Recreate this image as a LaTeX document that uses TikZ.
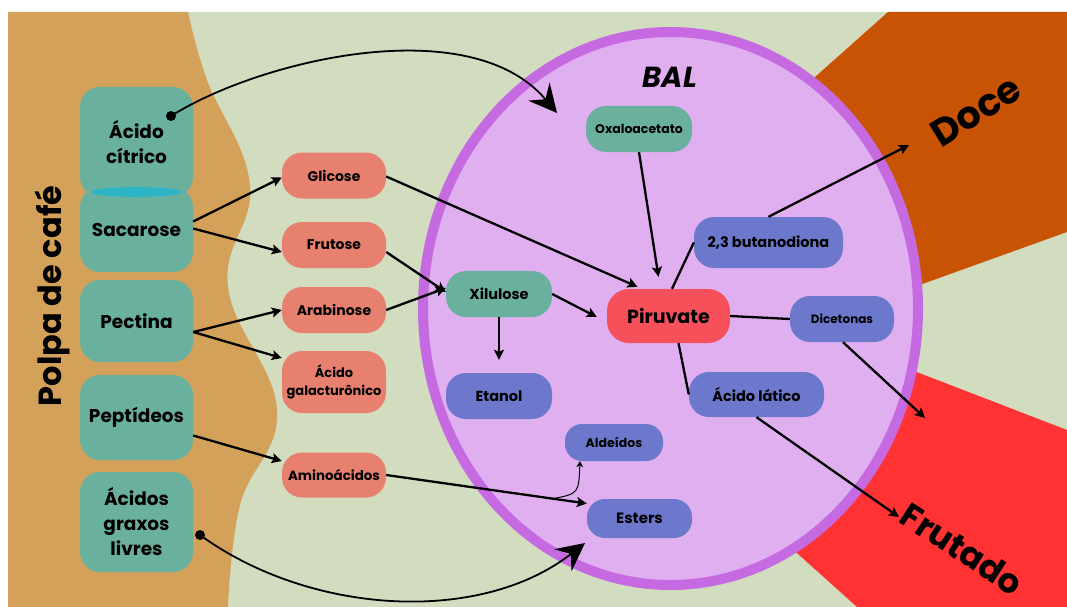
\documentclass[tikz,border=0pt]{standalone}
\usepackage{fontspec}
\setmainfont{Poppins}
\usetikzlibrary{arrows.meta,positioning,calc}
\definecolor{bgsage}{RGB}{210,221,192}
\definecolor{pulptan}{RGB}{212,161,90}
\definecolor{boxteal}{RGB}{106,176,158}
\definecolor{lenscyan}{RGB}{46,181,198}
\definecolor{boxsalmon}{RGB}{232,128,112}
\definecolor{cellfill}{RGB}{224,175,240}
\definecolor{cellrim}{RGB}{198,106,226}
\definecolor{pyrred}{RGB}{246,80,90}
\definecolor{boxblue}{RGB}{108,120,204}
\definecolor{doceorange}{RGB}{200,83,4}
\definecolor{frutred}{RGB}{255,51,51}

\begin{document}
\begin{tikzpicture}[x=1pt,y=-1pt,>={Stealth[length=10pt,width=10pt,inset=2pt]},
  srcbox/.style={fill=boxteal,rounded corners=20pt,minimum width=113pt,inner sep=0pt,align=center,font=\bfseries\fontsize{18.5}{25}\selectfont},
  sugarbox/.style={fill=boxsalmon,rounded corners=20pt,minimum width=104pt,minimum height=46pt,inner sep=0pt,align=center,font=\bfseries\fontsize{14}{18}\selectfont},
  cellbox/.style={rounded corners=20pt,minimum height=46pt,inner sep=0pt,align=center,font=\bfseries\fontsize{14.5}{17}\selectfont},
  link/.style={line width=2.3pt},
  flow/.style={->,line width=2.3pt},
  bigflow/.style={-{Stealth[length=28pt,width=28pt,inset=10pt]},line width=1.8pt},
  dot/.style={circle,fill=black,inner sep=0pt,minimum size=10pt}]
\useasboundingbox (0,0) rectangle (1067,607);
% background
\fill[white] (0,0) rectangle (1067,607);
\fill[bgsage] (8,12) rectangle (1067,607);
\fill[doceorange] (760,126) -- (888,12) -- (1067,12) -- (1067,232) -- (800,328) -- cycle;
\fill[frutred] (700,466) -- (800,327) -- (1067,430) -- (1067,607) -- (857,607) -- cycle;
\fill[pulptan] plot[smooth,tension=0.7] coordinates {(188,12) (207,80) (250,185) (228,287) (277,410) (240,505) (228,607)} -- (8,607) -- (8,12) -- cycle;
\draw[cellrim,fill=cellfill,line width=10pt] (670.5,308.5) ellipse [x radius=247.5pt,y radius=276.5pt];

\node[rotate=90,font=\bfseries\fontsize{32}{36}\selectfont] (polpa) at (52,296) {Polpa de café};
\node[font=\bfseries\itshape\fontsize{29}{32}\selectfont] (bal) at (670,77) {BAL};
\node[rotate=32,font=\bfseries\fontsize{38}{40}\selectfont] (doce) at (976,111) {Doce};
\node[rotate=-33,font=\bfseries\fontsize{34}{40}\selectfont] (frutado) at (962,549) {Frutado};

% coffee pulp
\node[srcbox,minimum height=110pt] (acido) at (136.5,142) {Ácido\\cítrico};
\node[srcbox,minimum height=85pt] (sacarose) at (136.5,229.5) {Sacarose};
\fill[lenscyan] (136.5,192) ellipse [x radius=46pt,y radius=5pt];
\node[srcbox,minimum height=82pt] (pectina) at (136.5,321) {Pectina};
\node[srcbox,minimum height=85pt] (peptideos) at (136.5,417.5) {Peptídeos};
\node[srcbox,minimum height=100pt] (graxos) at (136.5,522) {Ácidos\\graxos\\livres};

\node[sugarbox] (glicose) at (334,175.5) {Glicose};
\node[sugarbox] (frutose) at (334,245) {Frutose};
\node[sugarbox] (arabinose) at (334,310) {Arabinose};
\node[sugarbox,minimum height=62pt,font=\bfseries\fontsize{13}{18}\selectfont] (galact) at (334,382) {Ácido\\galacturônico};
\node[sugarbox,minimum height=45pt,font=\bfseries\fontsize{13.4}{16}\selectfont] (amino) at (334,475) {Aminoácidos};

% inside the cell
\node[cellbox,fill=boxteal,minimum width=106pt,font=\bfseries\fontsize{12.5}{15}\selectfont] (oxalo) at (639,129) {Oxaloacetato};
\node[cellbox,fill=boxteal,minimum width=106pt] (xilulose) at (499,294) {Xilulose};
\node[cellbox,fill=pyrred,minimum width=123pt,minimum height=54pt,rounded corners=22pt,font=\bfseries\fontsize{19}{22}\selectfont] (piruvate) at (668.5,316) {Piruvate};
\node[cellbox,fill=boxblue,minimum width=149pt,minimum height=51pt] (butano) at (768.5,242.5) {2,3 butanodiona};
\node[cellbox,fill=boxblue,minimum width=104pt,font=\bfseries\fontsize{12}{15}\selectfont] (dicetonas) at (842,319) {Dicetonas};
\node[cellbox,fill=boxblue,minimum width=135pt,minimum height=45pt] (latico) at (756.5,394.5) {Ácido lático};
\node[cellbox,fill=boxblue,minimum width=106pt] (etanol) at (499,396) {Etanol};
\node[cellbox,fill=boxblue,minimum width=98pt,minimum height=37pt,rounded corners=17pt,font=\bfseries\fontsize{12.5}{15}\selectfont] (aldeidos) at (614,442.5) {Aldeídos};
\node[cellbox,fill=boxblue,minimum width=105pt,minimum height=39pt,rounded corners=18pt,font=\bfseries\fontsize{15}{17}\selectfont] (esters) at (639.5,518.5) {Esters};

\node[dot] (citdot) at (171,116) {};
\node[dot] (fatdot) at (200,535) {};
\coordinate (cittip) at (557,113);
\coordinate (fattip) at (585,543);
\coordinate (docetip) at (909,145);
\coordinate (frutip1) at (925,418);
\coordinate (frutip2) at (899,517);

\draw[flow] ($(sacarose.east)+(0,-8)$) -- ($(glicose.west)+(0,2)$);
\draw[flow] ($(sacarose.east)+(0,-1)$) -- ($(frutose.west)+(0,7)$);
\draw[flow] ($(pectina.east)+(0,11)$) -- (arabinose.west);
\draw[flow] ($(pectina.east)+(0,11)$) -- ($(galact.west)+(0,-24)$);
\draw[flow] ($(peptideos.east)+(0,18)$) -- ($(amino.west)+(0,-14)$);
\draw[flow] ($(glicose.east)+(0,1)$) -- ($(piruvate.north)+(-31,-2)$);
\draw[flow] ($(frutose.east)+(0,7)$) -- ($(xilulose.west)+(0,-2)$);
\draw[flow] (arabinose.east) -- ($(xilulose.west)+(0,-6)$);
\draw[flow] (xilulose.east) -- ($(piruvate.west)+(-10,1)$);
\draw[flow] (xilulose.south) -- ($(etanol.north)+(0,-13)$);
\draw[flow] (oxalo.south) -- ($(piruvate.north)+(-10,-12)$);
\draw[link] ($(piruvate.north)+(3.5,0)$) -- (butano.west);
\draw[flow] (butano.north) -- (docetip);
\draw[link] (piruvate.east) -- (dicetonas.west);
\draw[link] ($(piruvate.south)+(10,0)$) -- (latico.west);
\draw[flow] ($(dicetonas.south)+(1,0)$) -- (frutip1);
\draw[flow] (latico.south) -- (frutip2);
\draw[flow] (amino.east) -- coordinate[pos=0.83] (split) ($(esters.west)+(0,-15)$);
\draw[->,line width=1pt,>={Stealth[length=6pt,width=7pt]}] (split) .. controls ($(split)+(26,-5)$) .. ($(aldeidos.south)+(-34,0)$);
\draw[bigflow] (citdot.center) .. controls (260,60) and (470,10) .. (cittip);
\draw[bigflow] (fatdot.center) .. controls (310,615) and (480,625) .. (fattip);
\end{tikzpicture}
\end{document}
